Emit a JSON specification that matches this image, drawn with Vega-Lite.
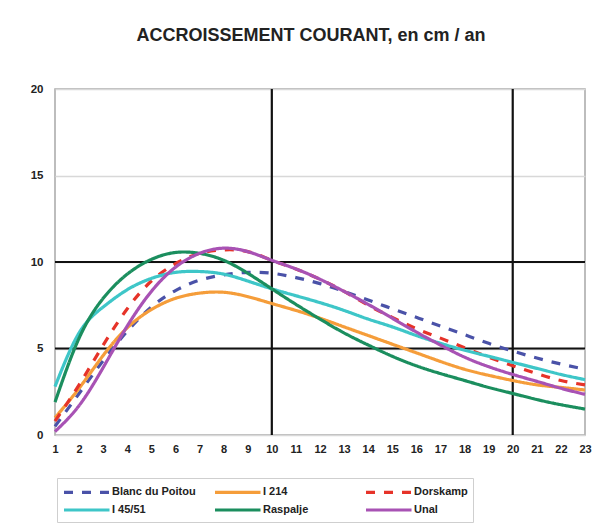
{
  "$schema": "https://vega.github.io/schema/vega-lite/v6.json",
  "width": 530,
  "height": 346,
  "autosize": {"type": "none"},
  "padding": {"left": 55, "top": 89, "right": 15, "bottom": 89},
  "background": "white",
  "config": {
    "font": "Liberation Sans",
    "view": {"stroke": "#a8a8a8", "strokeWidth": 1.5},
    "axis": {"labelOverlap": false, "labelFont": "Liberation Sans", "labelFontWeight": "bold", "labelColor": "#222", "ticks": false, "domain": false, "title": null}
  },
  "title": {
    "text": "ACCROISSEMENT COURANT, en cm / an",
    "fontSize": 18,
    "fontWeight": "bold",
    "font": "Liberation Sans",
    "color": "#222",
    "anchor": "middle",
    "offset": 38,
    "dx": -9
  },
  "datasets": {
    "curves": [
      {"x": 1, "s": "Blanc du Poitou", "v": 0.5}, {"x": 2, "s": "Blanc du Poitou", "v": 2.4}, {"x": 3, "s": "Blanc du Poitou", "v": 4.3}, {"x": 4, "s": "Blanc du Poitou", "v": 6.0}, {"x": 5, "s": "Blanc du Poitou", "v": 7.4}, {"x": 6, "s": "Blanc du Poitou", "v": 8.35}, {"x": 7, "s": "Blanc du Poitou", "v": 8.95}, {"x": 8, "s": "Blanc du Poitou", "v": 9.25}, {"x": 9, "s": "Blanc du Poitou", "v": 9.4}, {"x": 10, "s": "Blanc du Poitou", "v": 9.35}, {"x": 11, "s": "Blanc du Poitou", "v": 9.1}, {"x": 12, "s": "Blanc du Poitou", "v": 8.75}, {"x": 13, "s": "Blanc du Poitou", "v": 8.3}, {"x": 14, "s": "Blanc du Poitou", "v": 7.8}, {"x": 15, "s": "Blanc du Poitou", "v": 7.3}, {"x": 16, "s": "Blanc du Poitou", "v": 6.8}, {"x": 17, "s": "Blanc du Poitou", "v": 6.3}, {"x": 18, "s": "Blanc du Poitou", "v": 5.8}, {"x": 19, "s": "Blanc du Poitou", "v": 5.3}, {"x": 20, "s": "Blanc du Poitou", "v": 4.85}, {"x": 21, "s": "Blanc du Poitou", "v": 4.45}, {"x": 22, "s": "Blanc du Poitou", "v": 4.1}, {"x": 23, "s": "Blanc du Poitou", "v": 3.8},
      {"x": 1, "s": "I 214", "v": 1.0}, {"x": 2, "s": "I 214", "v": 2.7}, {"x": 3, "s": "I 214", "v": 4.6}, {"x": 4, "s": "I 214", "v": 6.2}, {"x": 5, "s": "I 214", "v": 7.25}, {"x": 6, "s": "I 214", "v": 7.9}, {"x": 7, "s": "I 214", "v": 8.2}, {"x": 8, "s": "I 214", "v": 8.25}, {"x": 9, "s": "I 214", "v": 8.0}, {"x": 10, "s": "I 214", "v": 7.6}, {"x": 11, "s": "I 214", "v": 7.2}, {"x": 12, "s": "I 214", "v": 6.75}, {"x": 13, "s": "I 214", "v": 6.25}, {"x": 14, "s": "I 214", "v": 5.75}, {"x": 15, "s": "I 214", "v": 5.25}, {"x": 16, "s": "I 214", "v": 4.75}, {"x": 17, "s": "I 214", "v": 4.25}, {"x": 18, "s": "I 214", "v": 3.8}, {"x": 19, "s": "I 214", "v": 3.45}, {"x": 20, "s": "I 214", "v": 3.15}, {"x": 21, "s": "I 214", "v": 2.9}, {"x": 22, "s": "I 214", "v": 2.75}, {"x": 23, "s": "I 214", "v": 2.6},
      {"x": 1, "s": "Dorskamp", "v": 0.8}, {"x": 2, "s": "Dorskamp", "v": 2.9}, {"x": 3, "s": "Dorskamp", "v": 5.2}, {"x": 4, "s": "Dorskamp", "v": 7.3}, {"x": 5, "s": "Dorskamp", "v": 8.9}, {"x": 6, "s": "Dorskamp", "v": 9.9}, {"x": 7, "s": "Dorskamp", "v": 10.5}, {"x": 8, "s": "Dorskamp", "v": 10.7}, {"x": 9, "s": "Dorskamp", "v": 10.6}, {"x": 10, "s": "Dorskamp", "v": 10.1}, {"x": 11, "s": "Dorskamp", "v": 9.6}, {"x": 12, "s": "Dorskamp", "v": 9.0}, {"x": 13, "s": "Dorskamp", "v": 8.3}, {"x": 14, "s": "Dorskamp", "v": 7.5}, {"x": 15, "s": "Dorskamp", "v": 6.8}, {"x": 16, "s": "Dorskamp", "v": 6.15}, {"x": 17, "s": "Dorskamp", "v": 5.6}, {"x": 18, "s": "Dorskamp", "v": 5.05}, {"x": 19, "s": "Dorskamp", "v": 4.5}, {"x": 20, "s": "Dorskamp", "v": 4.0}, {"x": 21, "s": "Dorskamp", "v": 3.55}, {"x": 22, "s": "Dorskamp", "v": 3.15}, {"x": 23, "s": "Dorskamp", "v": 2.9},
      {"x": 1, "s": "I 45/51", "v": 2.8}, {"x": 2, "s": "I 45/51", "v": 5.9}, {"x": 3, "s": "I 45/51", "v": 7.4}, {"x": 4, "s": "I 45/51", "v": 8.4}, {"x": 5, "s": "I 45/51", "v": 9.05}, {"x": 6, "s": "I 45/51", "v": 9.4}, {"x": 7, "s": "I 45/51", "v": 9.45}, {"x": 8, "s": "I 45/51", "v": 9.3}, {"x": 9, "s": "I 45/51", "v": 8.9}, {"x": 10, "s": "I 45/51", "v": 8.45}, {"x": 11, "s": "I 45/51", "v": 8.05}, {"x": 12, "s": "I 45/51", "v": 7.65}, {"x": 13, "s": "I 45/51", "v": 7.2}, {"x": 14, "s": "I 45/51", "v": 6.7}, {"x": 15, "s": "I 45/51", "v": 6.25}, {"x": 16, "s": "I 45/51", "v": 5.75}, {"x": 17, "s": "I 45/51", "v": 5.3}, {"x": 18, "s": "I 45/51", "v": 4.9}, {"x": 19, "s": "I 45/51", "v": 4.55}, {"x": 20, "s": "I 45/51", "v": 4.2}, {"x": 21, "s": "I 45/51", "v": 3.85}, {"x": 22, "s": "I 45/51", "v": 3.5}, {"x": 23, "s": "I 45/51", "v": 3.2},
      {"x": 1, "s": "Raspalje", "v": 1.9}, {"x": 2, "s": "Raspalje", "v": 5.6}, {"x": 3, "s": "Raspalje", "v": 7.9}, {"x": 4, "s": "Raspalje", "v": 9.3}, {"x": 5, "s": "Raspalje", "v": 10.15}, {"x": 6, "s": "Raspalje", "v": 10.55}, {"x": 7, "s": "Raspalje", "v": 10.5}, {"x": 8, "s": "Raspalje", "v": 10.1}, {"x": 9, "s": "Raspalje", "v": 9.35}, {"x": 10, "s": "Raspalje", "v": 8.45}, {"x": 11, "s": "Raspalje", "v": 7.55}, {"x": 12, "s": "Raspalje", "v": 6.7}, {"x": 13, "s": "Raspalje", "v": 5.9}, {"x": 14, "s": "Raspalje", "v": 5.2}, {"x": 15, "s": "Raspalje", "v": 4.55}, {"x": 16, "s": "Raspalje", "v": 4.0}, {"x": 17, "s": "Raspalje", "v": 3.55}, {"x": 18, "s": "Raspalje", "v": 3.15}, {"x": 19, "s": "Raspalje", "v": 2.75}, {"x": 20, "s": "Raspalje", "v": 2.4}, {"x": 21, "s": "Raspalje", "v": 2.05}, {"x": 22, "s": "Raspalje", "v": 1.75}, {"x": 23, "s": "Raspalje", "v": 1.5},
      {"x": 1, "s": "Unal", "v": 0.2}, {"x": 2, "s": "Unal", "v": 1.7}, {"x": 3, "s": "Unal", "v": 3.9}, {"x": 4, "s": "Unal", "v": 6.3}, {"x": 5, "s": "Unal", "v": 8.3}, {"x": 6, "s": "Unal", "v": 9.7}, {"x": 7, "s": "Unal", "v": 10.5}, {"x": 8, "s": "Unal", "v": 10.8}, {"x": 9, "s": "Unal", "v": 10.6}, {"x": 10, "s": "Unal", "v": 10.1}, {"x": 11, "s": "Unal", "v": 9.6}, {"x": 12, "s": "Unal", "v": 9.0}, {"x": 13, "s": "Unal", "v": 8.3}, {"x": 14, "s": "Unal", "v": 7.55}, {"x": 15, "s": "Unal", "v": 6.75}, {"x": 16, "s": "Unal", "v": 5.95}, {"x": 17, "s": "Unal", "v": 5.2}, {"x": 18, "s": "Unal", "v": 4.5}, {"x": 19, "s": "Unal", "v": 3.95}, {"x": 20, "s": "Unal", "v": 3.5}, {"x": 21, "s": "Unal", "v": 3.1}, {"x": 22, "s": "Unal", "v": 2.7}, {"x": 23, "s": "Unal", "v": 2.35}
    ],
    "hrules": [{"y": 5}, {"y": 10}],
    "vrules": [{"x": 10}, {"x": 20}]
  },
  "layer": [
    {
      "data": {"name": "hrules"},
      "mark": {"type": "rule", "color": "#111", "strokeWidth": 2.2},
      "encoding": {
        "y": {
          "field": "y", "type": "quantitative",
          "scale": {"domain": [0, 20], "nice": false},
          "axis": {
            "title": null, "values": [0, 5, 10, 15, 20], "labelOverlap": false,
            "grid": true, "gridColor": "#d8d8d8", "gridWidth": 1.5,
            "ticks": false, "domain": false,
            "labelFont": "Liberation Sans", "labelFontWeight": "bold", "labelFontSize": 11.5,
            "labelColor": "#222", "labelPadding": 12
          }
        }
      }
    },
    {
      "data": {"name": "vrules"},
      "mark": {"type": "rule", "color": "#111", "strokeWidth": 2.2},
      "encoding": {
        "x": {
          "field": "x", "type": "quantitative",
          "scale": {"domain": [1, 23], "nice": false, "zero": false},
          "axis": {
            "title": null, "values": [1,2,3,4,5,6,7,8,9,10,11,12,13,14,15,16,17,18,19,20,21,22,23],
            "grid": false, "ticks": false, "domain": false, "labelOverlap": false,
            "labelFont": "Liberation Sans", "labelFontWeight": "bold", "labelFontSize": 11,
            "labelColor": "#222", "labelPadding": 8, "labelFlush": false
          }
        }
      }
    },
    {
      "data": {"name": "curves"},
      "mark": {"type": "line", "interpolate": "natural", "strokeWidth": 3.2},
      "encoding": {
        "x": {
          "field": "x", "type": "quantitative",
          "scale": {"domain": [1, 23], "nice": false, "zero": false},
          "axis": {
            "title": null, "values": [1,2,3,4,5,6,7,8,9,10,11,12,13,14,15,16,17,18,19,20,21,22,23],
            "grid": false, "ticks": false, "domain": false, "labelOverlap": false,
            "labelFont": "Liberation Sans", "labelFontWeight": "bold", "labelFontSize": 11,
            "labelColor": "#222", "labelPadding": 8, "labelFlush": false
          }
        },
        "y": {
          "field": "v", "type": "quantitative",
          "scale": {"domain": [0, 20], "nice": false},
          "axis": {
            "title": null, "values": [0, 5, 10, 15, 20], "labelOverlap": false,
            "grid": true, "gridColor": "#d8d8d8", "gridWidth": 1.5,
            "ticks": false, "domain": false,
            "labelFont": "Liberation Sans", "labelFontWeight": "bold", "labelFontSize": 11.5,
            "labelColor": "#222", "labelPadding": 12
          }
        },
        "color": {
          "field": "s", "type": "nominal",
          "scale": {
            "domain": ["Blanc du Poitou", "I 214", "Dorskamp", "I 45/51", "Raspalje", "Unal"],
            "range": ["#4a52a8", "#f59d3a", "#e63329", "#3ec6c8", "#1b8e5e", "#a852b4"]
          },
          "legend": {
            "title": null, "orient": "none", "legendX": 2, "legendY": 389,
            "direction": "horizontal", "columns": 3, "gridAlign": "all",
            "symbolType": "M-1,0H5.5", "symbolSize": 196, "symbolStrokeWidth": 3.2,
            "labelFont": "Liberation Sans", "labelFontWeight": "bold", "labelFontSize": 11,
            "labelColor": "#222", "labelOffset": 32, "columnPadding": 12, "rowPadding": 2,
            "padding": 5, "strokeColor": "#cfcfcf", "labelLimit": 200
          }
        },
        "strokeDash": {
          "field": "s", "type": "nominal",
          "scale": {
            "domain": ["Blanc du Poitou", "I 214", "Dorskamp", "I 45/51", "Raspalje", "Unal"],
            "range": [[9, 9], [1, 0], [9, 9], [1, 0], [1, 0], [1, 0]]
          },
          "legend": {
            "title": null, "orient": "none", "legendX": 2, "legendY": 389,
            "direction": "horizontal", "columns": 3, "gridAlign": "all",
            "symbolType": "M-1,0H5.5", "symbolSize": 196, "symbolStrokeWidth": 3.2,
            "labelFont": "Liberation Sans", "labelFontWeight": "bold", "labelFontSize": 11,
            "labelColor": "#222", "labelOffset": 32, "columnPadding": 12, "rowPadding": 2,
            "padding": 5, "strokeColor": "#cfcfcf", "labelLimit": 200
          }
        }
      }
    }
  ]
}
